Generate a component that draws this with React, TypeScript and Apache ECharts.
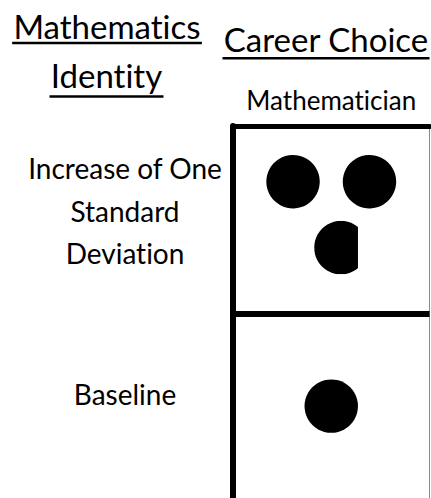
import React, { useEffect, useRef } from 'react';
import * as echarts from 'echarts';

// ---- data ----
const columnCategories = ['Mathematician'];
const rowCategories = ['Increase of One\nStandard\nDeviation', 'Baseline'];
const dotValues = [2.82, 1];
const rowHeaderLines = ['Mathematics', 'Identity'];
const columnHeaderLines = ['Career Choice'];

const FONT = 'Lato';
const HEADER_SIZE = 33;
const ROW_LABEL_SIZE = 28;
const COL_LABEL_SIZE = 26;

function textWidth(text: string, size: number): number {
  const ctx = document.createElement('canvas').getContext('2d');
  if (!ctx) return text.length * size * 0.5;
  ctx.font = `${size}px ${FONT}`;
  (ctx as any).fontVariantLigatures = 'none';
  return ctx.measureText(text).width;
}

function underlinedText(text: string, cx: number, cy: number, underlineY: number, size: number) {
  const w = textWidth(text, size);
  return [
    {
      type: 'text',
      x: cx,
      y: cy,
      style: {
        text,
        font: `${size}px ${FONT}`,
        fill: '#000',
        align: 'center',
        verticalAlign: 'middle',
      },
    },
    {
      type: 'rect',
      shape: { x: cx - w / 2 - 1, y: underlineY - 1.25, width: w + 2, height: 2.5 },
      style: { fill: '#000' },
    },
  ];
}

export default function App() {
  const ref = useRef<HTMLDivElement>(null);

  useEffect(() => {
    if (!ref.current) return;
    const chart = echarts.init(ref.current, null, { renderer: 'svg' });

    const option: any = {
      animation: false,
      backgroundColor: '#fff',
      grid: {
        left: 233,
        right: 1.5,
        top: 126,
        bottom: -3.5,
        show: true,
        borderColor: '#8a8a8a',
        borderWidth: 1,
        backgroundColor: 'transparent',
        outerBoundsMode: 'none',
      },
      xAxis: {
        type: 'category',
        position: 'top',
        data: columnCategories,
        axisLine: { show: true, lineStyle: { color: '#000', width: 5 } },
        axisTick: { show: false },
        splitLine: { show: false },
        axisLabel: {
          margin: 13,
          fontFamily: FONT,
          fontSize: COL_LABEL_SIZE,
          color: '#000',
        },
      },
      yAxis: {
        type: 'category',
        inverse: true,
        data: rowCategories,
        axisLine: { show: true, lineStyle: { color: '#000', width: 6 } },
        axisTick: { show: false },
        splitLine: {
          show: true,
          showMinLine: false,
          showMaxLine: false,
          lineStyle: { color: '#000', width: 6 },
        },
        axisLabel: {
          margin: 108,
          align: 'center',
          fontFamily: FONT,
          fontSize: ROW_LABEL_SIZE,
          lineHeight: 42.5,
          color: '#000',
          padding: [0, 0, 18, 0],
          formatter: (value: string, index: number) => (index === 1 ? `{b|${value}}` : value),
          rich: {
            b: {
              fontFamily: FONT,
              fontSize: ROW_LABEL_SIZE,
              color: '#000',
              lineHeight: 42.5,
              padding: [0, 0, 9, 0],
            },
          },
        },
      },
      graphic: [
        ...underlinedText(rowHeaderLines[0], 107, 26, 43, HEADER_SIZE),
        ...underlinedText(rowHeaderLines[1], 106.5, 75, 96.5, HEADER_SIZE),
        ...underlinedText(columnHeaderLines[0], 326, 39, 58.3, HEADER_SIZE),
      ],
      series: [
        {
          type: 'custom',
          coordinateSystem: 'cartesian2d',
          encode: { x: 0, y: 1 },
          data: dotValues.map((v, i) => [columnCategories[0], rowCategories[i], v]),
          renderItem: (params: any, api: any) => {
            const center = api.coord([api.value(0), api.value(1)]);
            const size = api.size([1, 1]);
            const w = size[0];
            const h = size[1];
            const v = api.value(2) as number;
            const r = w * 0.136;
            const n = Math.ceil(v);
            const perRow = 2;
            const nRows = Math.ceil(n / perRow);
            const colGap = w * 0.389;
            const rowGap = h * 0.355;
            const yShift = nRows > 1 ? -h * 0.03 : -h * 0.008;
            const children: any[] = [];
            for (let k = 0; k < n; k++) {
              const row = Math.floor(k / perRow);
              const inRow = Math.min(perRow, n - row * perRow);
              const col = k % perRow;
              const slotX = center[0] + (col - (inRow - 1) / 2) * colGap;
              const cy = center[1] + (row - (nRows - 1) / 2) * rowGap + yShift;
              const frac = Math.min(1, v - k);
              if (frac >= 1) {
                children.push({ type: 'circle', shape: { cx: slotX, cy, r }, style: { fill: '#000' } });
              } else {
                const cx = slotX + (1 - frac) * 2 * r;
                children.push({
                  type: 'circle',
                  shape: { cx, cy, r },
                  style: { fill: '#000' },
                  clipPath: {
                    type: 'rect',
                    shape: { x: cx - r, y: cy - r, width: 2 * r * frac, height: 2 * r },
                  },
                });
              }
            }
            return { type: 'group', children };
          },
        },
      ],
    };

    chart.setOption(option);
    return () => chart.dispose();
  }, []);

  return (
    <>
      <style>{'#root svg text{font-variant-ligatures:none !important;font-feature-settings:"liga" 0,"clig" 0 !important;}'}</style>
      <div
        ref={ref}
        style={{ position: 'absolute', left: 0, top: 0, width: 431, height: 498, background: '#fff' }}
      />
    </>
  );
}
